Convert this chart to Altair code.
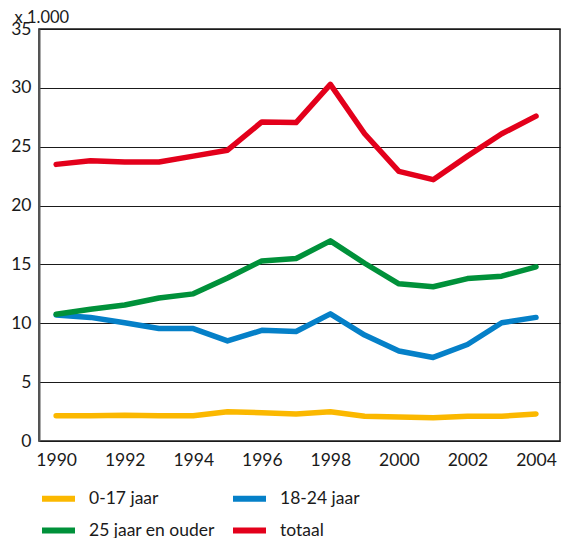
import altair as alt
import pandas as pd

years = list(range(1990, 2005))
series = ["0-17 jaar", "18-24 jaar", "25 jaar en ouder", "totaal"]
colors = ["#FBB800", "#0580C8", "#00913A", "#E3001B"]

v_0_17 = [2.14, 2.15, 2.18, 2.14, 2.14, 2.48, 2.40, 2.30, 2.48, 2.10, 2.03, 1.98, 2.10, 2.10, 2.30]
v_18_24 = [10.7, 10.5, 10.05, 9.55, 9.55, 8.5, 9.4, 9.3, 10.8, 9.0, 7.65, 7.1, 8.2, 10.05, 10.5]
v_25plus = [10.76, 11.2, 11.55, 12.15, 12.5, 13.85, 15.3, 15.5, 17.0, 15.1, 13.35, 13.1, 13.8, 14.0, 14.8]
v_totaal = [23.5, 23.8, 23.7, 23.7, 24.2, 24.7, 27.1, 27.05, 30.3, 26.1, 22.9, 22.2, 24.2, 26.1, 27.6]

rows = []
for name, vals in zip(series, [v_0_17, v_18_24, v_25plus, v_totaal]):
    for y, v in zip(years, vals):
        rows.append({"jaar": y, "waarde": v, "reeks": name, "order": series.index(name)})
df = pd.DataFrame(rows)

FONT = "Lato"

chart = alt.Chart(df).mark_line(strokeWidth=5.5, strokeJoin="round", strokeCap="round").encode(
    x=alt.X("jaar:Q",
            scale=alt.Scale(domain=[1989.5, 2004.7], nice=False, zero=False),
            axis=alt.Axis(values=list(range(1990, 2005, 2)), format="d", title=None,
                          grid=False, ticks=False, domain=False,
                          labelFontSize=17.5, labelFont=FONT, labelColor="#1a1a1a",
                          labelPadding=10, labelFlush=False)),
    y=alt.Y("waarde:Q",
            scale=alt.Scale(domain=[0, 35], nice=False),
            axis=alt.Axis(values=[0, 5, 10, 15, 20, 25, 30, 35], title="x 1.000",
                          titleAngle=0, titleAlign="left", titleBaseline="middle",
                          titleX=-25, titleY=-12, titleFontSize=16.5, titleFont=FONT,
                          titleFontWeight="normal", titleColor="#1a1a1a",
                          grid=True, gridColor="#1a1a1a", gridWidth=1.2,
                          ticks=False, domain=True, domainColor="#555555", domainWidth=2,
                          labelFontSize=17.5, labelFont=FONT, labelColor="#1a1a1a",
                          labelPadding=8)),
    color=alt.Color("reeks:N",
                    scale=alt.Scale(domain=series, range=colors),
                    legend=alt.Legend(title=None, orient="none", legendX=0, legendY=450,
                                      columns=2, direction="horizontal",
                                      symbolType="stroke", symbolSize=1089,
                                      symbolStrokeWidth=6, labelFontSize=17.5,
                                      labelFont=FONT, labelColor="#1a1a1a",
                                      labelOffset=11, columnPadding=6, rowPadding=-7,
                                      labelLimit=300)),
    order=alt.Order("order:Q"),
).properties(
    width=521, height=412,
    autosize=alt.AutoSizeParams(type="none"),
    padding={"left": 31, "top": 21, "right": 1, "bottom": 97},
).configure_view(
    stroke="#1a1a1a", strokeWidth=1.5
)

chart.save("out.html", embed_options={"renderer": "svg", "actions": False})
